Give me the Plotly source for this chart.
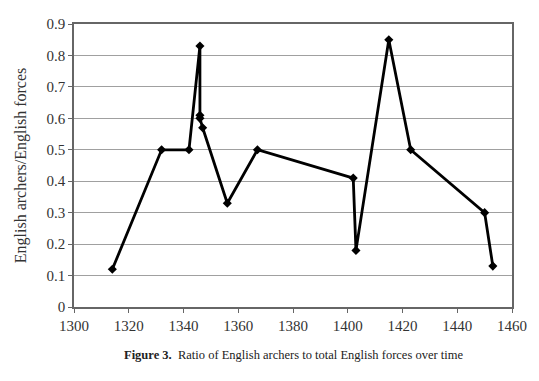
import plotly.graph_objects as go

years = [1314, 1332, 1342, 1346, 1346, 1346, 1347, 1356, 1367, 1402, 1403, 1415, 1423, 1450, 1453]
ratios = [0.12, 0.50, 0.50, 0.83, 0.61, 0.60, 0.57, 0.33, 0.50, 0.41, 0.18, 0.85, 0.50, 0.30, 0.13]
x_ticks = [1300, 1320, 1340, 1360, 1380, 1400, 1420, 1440, 1460]
y_ticks = [0, 0.1, 0.2, 0.3, 0.4, 0.5, 0.6, 0.7, 0.8, 0.9]
y_tick_labels = ["0", "0.1", "0.2", "0.3", "0.4", "0.5", "0.6", "0.7", "0.8", "0.9"]

serif = "'Liberation Serif', 'Times New Roman', serif"

fig = go.Figure()
fig.add_trace(go.Scatter(
    x=years, y=ratios, mode="lines+markers",
    line=dict(color="black", width=2.8),
    marker=dict(symbol="diamond", size=7, color="black"),
    showlegend=False,
))

fig.update_layout(
    width=539, height=381,
    margin=dict(l=74, r=27, t=24, b=74),
    paper_bgcolor="white", plot_bgcolor="white",
    font=dict(family=serif, color="#333333", size=15),
    xaxis=dict(
        range=[1300, 1460], tickvals=x_ticks, ticktext=[str(v) for v in x_ticks],
        showgrid=False, zeroline=False,
        showline=True, linecolor="#666666", linewidth=1.5, mirror=True,
        ticks="outside", ticklen=4, tickcolor="#666666",
        tickfont=dict(family=serif, size=15, color="#333333"),
    ),
    yaxis=dict(
        range=[0, 0.9], tickvals=y_ticks, ticktext=y_tick_labels,
        showgrid=True, gridcolor="#a0a0a0", gridwidth=1, zeroline=False,
        showline=True, linecolor="#666666", linewidth=1.5, mirror=True,
        ticks="outside", ticklen=4, tickcolor="#666666",
        tickfont=dict(family=serif, size=15, color="#333333"),
        title=dict(text="English archers/English forces", font=dict(family=serif, size=16, color="#333333"), standoff=16),
    ),
    annotations=[dict(
        text="<b>Figure 3.</b>  Ratio of English archers to total English forces over time",
        xref="paper", yref="paper", x=0.5, y=-0.17, xanchor="center", yanchor="middle",
        showarrow=False, font=dict(family=serif, size=12.5, color="#222222"),
    )],
)

fig.write_html("out.html", config={"displayModeBar": False},
               post_script="document.body.style.margin='0';document.body.style.overflow='hidden';")
